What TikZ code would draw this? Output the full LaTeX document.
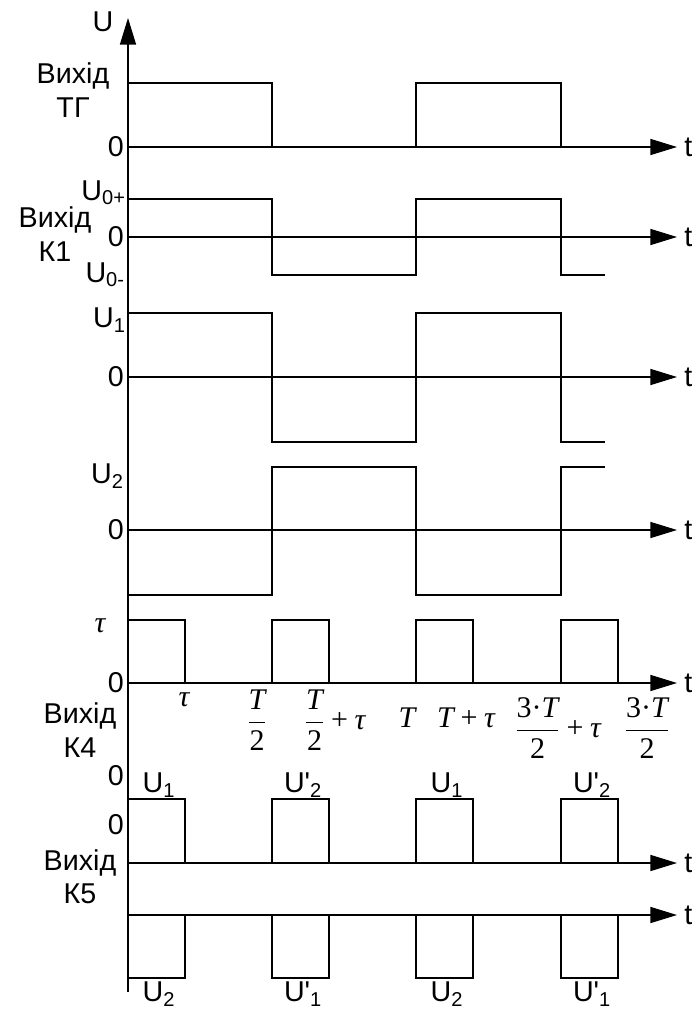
\RequirePackage{fix-cm}
\documentclass[tikz,border=0pt]{standalone}
\usepackage{amsmath}
\usepackage{fontspec}
\setmainfont{Liberation Sans}
\newfontfamily\tms{Liberation Serif}
\usetikzlibrary{arrows.meta}
\newcommand{\Usb}[1]{U\textsubscript{#1}}
\newcommand{\Upr}[1]{U\textquotesingle\textsubscript{#1}}
\newcommand{\ti}[1]{\text{\fontsize{22.5}{26}\selectfont\tms\itshape #1}}
\newcommand{\tn}[1]{\text{\fontsize{22.5}{26}\selectfont\tms #1}}
\newcommand{\tplus}{\mathbin{\tn{+}}}

\begin{document}
\begin{tikzpicture}[x=0.75pt, y=-0.75pt,
    axis/.style={line width=1.2pt, -{Triangle[length=20pt,width=12pt]}},
    wave/.style={line width=1.2pt},
    lbl/.style={font=\fontsize{21.5}{25}\selectfont, inner sep=0pt, align=center},
    mth/.style={font=\fontsize{22.5}{26}\selectfont, inner sep=0pt},
    zero/.style={lbl, anchor=east},
    tlbl/.style={lbl, anchor=west, xshift=5pt}
]
    \useasboundingbox (0,0) rectangle (693,1012);

    % Voltage axis
    \draw[axis] (128,992) -- (128,18);
    \node[lbl] (uax) at (103,22) {U};

    % Time axes
    \foreach \y/\n in {147/tg, 237/ka, 377/ua, 530/ub, 683/kd, 863/ke, 915/kf}
        \draw[axis] (128,\y) -- (677,\y) node[tlbl] (t\n) {t};

    % Output of the trigger
    \draw[wave] (128,83) -- (272,83) -- (272,147);
    \draw[wave] (416,147) -- (416,83) -- (561,83) -- (561,147);
    \node[lbl] (ltg) at (73,90) {Вихід\\ТГ};
    \node[zero] (ztg) at (124,147) {0};

    % Output of K1
    \draw[wave] (128,199) -- (272,199) -- (272,275) -- (416,275) -- (416,199)
        -- (561,199) -- (561,275) -- (605,275);
    \node[lbl, anchor=east] (uop) at (126,193) {\Usb{0+}};
    \node[lbl] (lka) at (55,234) {Вихід\\К1};
    \node[zero] (zka) at (124,237) {0};
    \node[lbl, anchor=east] (uom) at (125,275) {\Usb{0-}};

    % U1 and U2
    \draw[wave] (128,313) -- (272,313) -- (272,442) -- (416,442) -- (416,313)
        -- (561,313) -- (561,442) -- (605,442);
    \node[lbl, anchor=east] (uone) at (126,320) {\Usb{1}};
    \node[zero] (zua) at (124,377) {0};
    \draw[wave] (128,595) -- (272,595) -- (272,467) -- (416,467) -- (416,595)
        -- (561,595) -- (561,467) -- (605,467);
    \node[lbl, anchor=east] (utwo) at (124,476) {\Usb{2}};
    \node[zero] (zub) at (124,530) {0};

    % Output of K4
    \foreach \x in {128,272,416,561}
        \draw[wave] (\x,683) -- (\x,620) -- (\x+57,620) -- (\x+57,683);
    \node[mth] (tau) at (100,626) {$\ti{τ}$};
    \node[zero] (zkd) at (124,683) {0};
    \node[mth] (ttau) at (184,700) {$\ti{τ}$};
    \node[mth] (thalf) at (257,720) {$\dfrac{\ti{T}}{\tn{2}}$};
    \node[mth] (thalft) at (335,720) {$\dfrac{\ti{T}}{\tn{2}}\tplus\ti{τ}$};
    \node[mth] (tfull) at (407,718) {$\ti{T}$};
    \node[mth] (tfullt) at (466,718) {$\ti{T}\tplus\ti{τ}$};
    \node[mth] (tthrt) at (558,728) {$\dfrac{\tn{3·}\ti{T}}{\tn{2}}\tplus\ti{τ}$};
    \node[mth] (tthr) at (647,728) {$\dfrac{\tn{3·}\ti{T}}{\tn{2}}$};
    \node[lbl] (lkd) at (80,730) {Вихід\\К4};
    \node[zero] (zkdb) at (124,776) {0};

    % Output of K5
    \foreach \x/\a/\b in {128/\Usb{1}/\Usb{2}, 272/\Upr{2}/\Upr{1},
                          416/\Usb{1}/\Usb{2}, 561/\Upr{2}/\Upr{1}} {
        \draw[wave] (\x,863) -- (\x,799) -- (\x+57,799) -- (\x+57,863);
        \draw[wave] (\x,915) -- (\x,978) -- (\x+57,978) -- (\x+57,915);
        \node[lbl] at (\x+31,785) {\a};
        \node[lbl] at (\x+31,994) {\b};
    }
    \node[zero] (zke) at (124,825) {0};
    \node[lbl] (lke) at (80,877) {Вихід\\К5};
\end{tikzpicture}
\end{document}
